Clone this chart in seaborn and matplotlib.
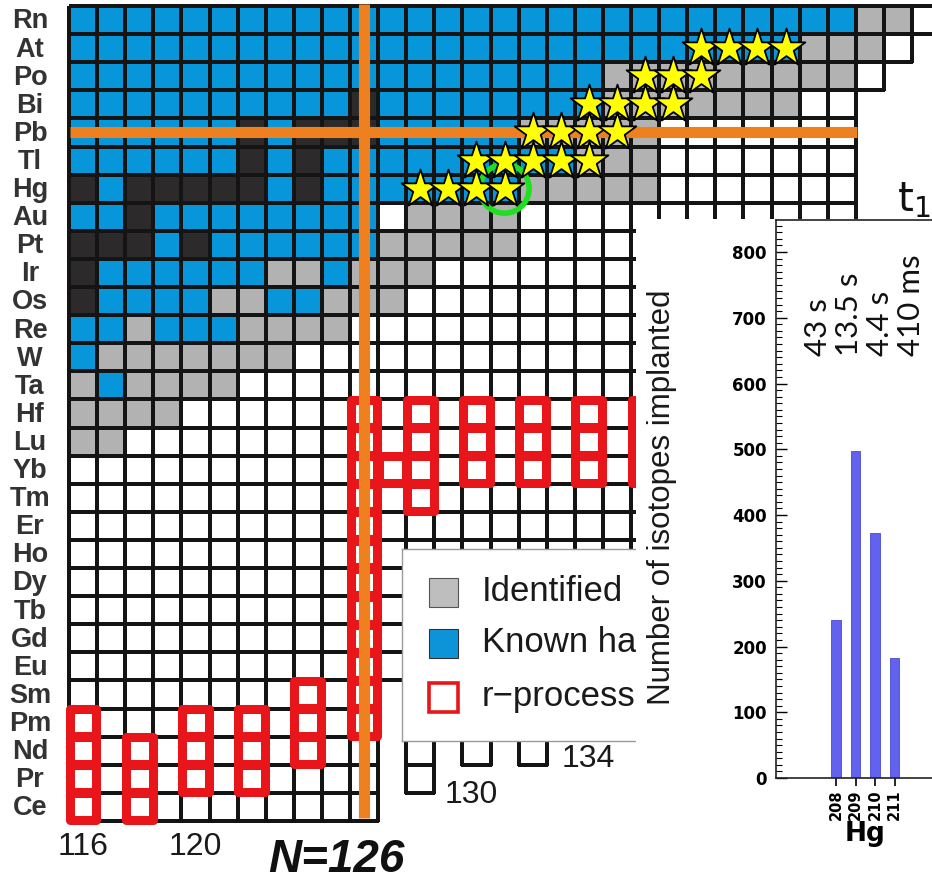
import numpy as np
import matplotlib
matplotlib.use("Agg")
import matplotlib.pyplot as plt
import seaborn as sns
from matplotlib.colors import ListedColormap, to_rgb
from matplotlib.patches import Rectangle
from matplotlib.ticker import MultipleLocator
from matplotlib import font_manager

# ---------------- nuclide chart data ----------------
elements = ["Rn", "At", "Po", "Bi", "Pb", "Tl", "Hg", "Au", "Pt", "Ir", "Os", "Re", "W",
            "Ta", "Hf", "Lu", "Yb", "Tm", "Er", "Ho", "Dy", "Tb", "Gd", "Eu", "Sm", "Pm",
            "Nd", "Pr", "Ce"]
protons = list(range(86, 57, -1))
neutrons = list(range(116, 147))

# rightmost neutron number drawn in the top rows (all other rows stop at N=143)
row_last_n = {86: 146, 85: 145, 84: 144}
# lowest proton number drawn in each neutron column past N=126
col_first_z = {127: 63, 128: 59, 129: 61, 130: 60, 131: 61, 132: 60, 133: 61, 134: 61}

stable = {
    83: [126], 82: [122, 124, 125, 126], 81: [122, 124],
    80: [116, 118, 119, 120, 121, 122, 124], 79: [118],
    78: [116, 117, 118, 120], 77: [116], 76: [116],
}
known_half_life = {
    86: list(range(116, 144)), 85: list(range(116, 142)), 84: list(range(116, 135)),
    83: list(range(116, 135)), 82: list(range(116, 132)), 81: list(range(116, 134)),
    80: list(range(116, 132)), 79: list(range(116, 127)), 78: list(range(116, 127)),
    77: [117, 118, 119, 120, 121, 122, 125], 76: [117, 118, 119, 120, 123, 124],
    75: [116, 117, 119, 120, 121], 74: [116], 73: [117],
}
identified = {
    86: [144, 145], 85: [142, 143, 144], 84: list(range(135, 144)),
    83: list(range(135, 142)), 82: list(range(132, 137)), 81: [134, 135, 136],
    80: list(range(132, 137)), 79: [128, 129, 130, 131], 78: [127, 128, 129, 130, 131],
    77: [123, 124, 126, 127, 128], 76: [121, 122, 125, 126, 127],
    75: [118, 122, 123, 124, 125], 74: list(range(117, 124)),
    73: [116, 118, 119, 120, 121], 72: [116, 117, 118, 119], 71: [116, 117],
}

# new half-life measurements (stars)
star_z = [80] * 4 + [81] * 5 + [82] * 4 + [83] * 4 + [84] * 3 + [85] * 4
star_n = [128, 129, 130, 131,
          130, 131, 132, 133, 134,
          132, 133, 134, 135,
          134, 135, 136, 137,
          136, 137, 138,
          138, 139, 140, 141]
circled_z, circled_n = [80], [131]

# r-process nuclei (red open squares)
rproc_n = ([116] * 4 + [118] * 3 + [120] * 3 + [122] * 3 + [124] * 3 + [126] * 12 +
           [127] + [128] * 4 + [130] * 3 + [132] * 3 + [134] * 3 + [136] * 3)
rproc_z = ([58, 59, 60, 61] + [58, 59, 60] + [59, 60, 61] + [59, 60, 61] + [60, 61, 62] +
           list(range(61, 73)) + [70] + [69, 70, 71, 72] + [70, 71, 72] * 4)

magic_n, magic_z = 126, 82

# ---------------- implantation inset data ----------------
hg_mass = ["208", "209", "210", "211"]
hg_counts = [241, 497, 372, 183]
hg_half_lives = ["43 s", "13.5 s", "4.4 s", "410 ms"]

# legend entries as far as they show left of the inset
legend_labels = ["Identified", "Known ha", "r\u2212process"]

# ---------------- build the cell grid ----------------
grid = np.full((len(protons), len(neutrons)), np.nan)
for i, z in enumerate(protons):
    last = row_last_n.get(z, 143)
    for j, n in enumerate(neutrons):
        first_z = col_first_z.get(n, 58 if n <= 126 else 62)
        if n <= last and z >= first_z:
            grid[i, j] = 0
    for n in identified.get(z, []):
        grid[i, n - 116] = 1
    for n in known_half_life.get(z, []):
        grid[i, n - 116] = 2
    for n in stable.get(z, []):
        grid[i, n - 116] = 3

W, H = 932, 882
CELL, X0, Y0 = 28.1, 69.0, 6.0
FONT = ["Liberation Sans", "DejaVu Sans"]
ORANGE = "#EE8020"
RED = "#E8161B"
EDGE = "#141414"

installed = {f.name for f in font_manager.fontManager.ttflist}
if "Liberation Sans Narrow" in installed:
    YLAB_FONT, YLAB_SIZE = ["Liberation Sans Narrow", "DejaVu Sans"], 26
else:
    YLAB_FONT, YLAB_SIZE = FONT, 22.5


def fx(x):
    return x / W


def fy(y):
    return 1 - y / H


fig = plt.figure(figsize=(W / 100, H / 100), dpi=100)
ax = fig.add_axes([0, 0, 1, 1])
cmap = ListedColormap(["#FFFFFF", "#B2B2B2", "#0896DA", "#2C2A2A"])
sns.heatmap(grid, ax=ax, cmap=cmap, vmin=-0.5, vmax=3.5, cbar=False,
            linewidths=1.6, linecolor=EDGE)
# outline only the cells that exist on the chart
mesh = ax.collections[0]
edge_rgba = np.zeros((grid.size, 4))
edge_rgba[:, :3] = to_rgb(EDGE)
edge_rgba[:, 3] = np.where(np.isnan(grid).ravel(), 0.0, 1.0)
mesh.set_edgecolor(edge_rgba)

ax.set_xlim(-X0 / CELL, (W - X0) / CELL)
ax.set_ylim((H - Y0) / CELL, -Y0 / CELL)
ax.set_axis_off()


def col_x(n):
    return np.asarray(n, dtype=float) - neutrons[0] + 0.5


def row_y(z):
    return protons[0] - np.asarray(z, dtype=float) + 0.5


# r-process boxes
ax.scatter(col_x(rproc_n), row_y(rproc_z), marker="s", s=372, facecolors="none",
           edgecolors=RED, linewidths=6.5, zorder=3)

# magic number lines
ax.plot([col_x(magic_n)] * 2, [-0.07, 28.9], color=ORANGE, lw=8,
        solid_capstyle="butt", zorder=4)
ax.plot([0.03, 28.03], [row_y(magic_z)] * 2, color=ORANGE, lw=8,
        solid_capstyle="butt", zorder=4)

# highlighted isotope and stars
ax.scatter(col_x(circled_n), row_y(circled_z), marker="o", s=1250, facecolors="none",
           edgecolors="#1EE01E", linewidths=4, zorder=5)
sns.scatterplot(x=col_x(star_n), y=row_y(star_z), marker="*", s=820, color="#FFFF00",
                edgecolor="black", linewidth=1.3, ax=ax, zorder=6, legend=False)
ax.set_axis_off()

# element labels
for i, el in enumerate(elements):
    ax.text(-1.39, i + 0.55, el, ha="center", va="center", fontsize=19.5,
            fontweight="bold", color="#333333", family=FONT)

# neutron number labels
for n in [116, 120]:
    ax.text(col_x(n), 29.93, str(n), ha="center", va="center", fontsize=23,
            color="#1A1A1A", family=FONT)
ax.text(col_x(130) - 0.2, 28.08, "130", ha="center", va="center", fontsize=23,
        color="#1A1A1A", family=FONT)
ax.text(col_x(134) - 0.03, 26.8, "134", ha="center", va="center", fontsize=23,
        color="#1A1A1A", family=FONT)
ax.text(9.5, 30.4, "N=126", ha="center", va="center", fontsize=33,
        fontweight="bold", fontstyle="italic", color="#111111", family=FONT)

# ---------------- legend (its right part lies under the inset) ----------------
leg = fig.add_axes([fx(402), fy(741), fx(636) - fx(402), fy(549) - fy(741)])
leg.set_zorder(2)
leg.set_xlim(402, 636)
leg.set_ylim(741, 549)
leg.set_xticks([])
leg.set_yticks([])
for side in ["left", "top", "bottom"]:
    leg.spines[side].set_color("#9A9A9A")
    leg.spines[side].set_linewidth(1.0)
leg.spines["right"].set_visible(False)
swatch_style = [("#BEBEBE", "#555555", 0.8), ("#0D93D8", "#333333", 0.8),
                ("white", RED, 2.6)]
for (face, edge, lw), label, yc in zip(swatch_style, legend_labels, [592, 643, 697]):
    leg.add_patch(Rectangle((429, yc - 14), 29, 29, facecolor=face, edgecolor=edge,
                            lw=lw))
    leg.text(482, yc, label, ha="left", va="center", fontsize=25, color="#1A1A1A",
             family=FONT, clip_on=True)

# ---------------- inset: implanted Hg isotopes ----------------
bg = fig.add_axes([fx(636), 0, 1 - fx(636), (H - 219) / H])
bg.set_zorder(5)
bg.set_facecolor("white")
bg.set_xticks([])
bg.set_yticks([])
for s in bg.spines.values():
    s.set_visible(False)

ax2 = fig.add_axes([fx(776), fy(778), 1 - fx(776), (778 - 220) / H])
ax2.set_zorder(6)
sns.barplot(x=hg_mass, y=hg_counts, ax=ax2, color="#6262EE", width=0.5,
            saturation=1, edgecolor="#4A4AD0", linewidth=0.6)
ax2.set_xlim(-60 / 19.5, (W - 836) / 19.5)
ax2.set_ylim(0, (778 - 220) / 0.6575)
ax2.spines["right"].set_visible(False)
for s in ["left", "top", "bottom"]:
    ax2.spines[s].set_linewidth(1.2)
    ax2.spines[s].set_color("#222222")
ax2.yaxis.set_major_locator(MultipleLocator(100))
ax2.yaxis.set_minor_locator(MultipleLocator(10))
ax2.tick_params(axis="y", which="major", direction="in", length=8, width=1.0, pad=6.5,
                labelsize=12)
ax2.tick_params(axis="y", which="minor", direction="in", length=4, width=0.8)
ax2.tick_params(axis="x", direction="out", length=6, width=1.2, pad=2, labelsize=10.5)
for lab in ax2.get_yticklabels():
    lab.set_fontweight("bold")
for lab in ax2.get_xticklabels():
    lab.set_fontweight("bold")
    lab.set_rotation(90)
ax2.set_xlabel("Hg", fontsize=19, fontweight="bold")
ax2.xaxis.set_label_coords((865 - 776) / (W - 776), -(821 - 778) / (778 - 220))
ax2.set_ylabel("")

fig.text(fx(662), fy(497), "Number of isotopes implanted", rotation=90, ha="center",
         va="center", fontsize=YLAB_SIZE, color="#1A1A1A", family=YLAB_FONT, zorder=7)

for label, xc in zip(hg_half_lives, [818, 849, 880, 911]):
    fig.text(fx(xc), fy(356), label, rotation=90, ha="center", va="bottom",
             fontsize=22.5, color="#111111", family=["Lato", "DejaVu Sans"], zorder=7)

fig.text(fx(897), fy(211), r"$\mathregular{t_1}$", ha="left", va="baseline",
         fontsize=29, color="#111111", zorder=7)

fig.savefig("out.png", dpi=100, facecolor="white")
